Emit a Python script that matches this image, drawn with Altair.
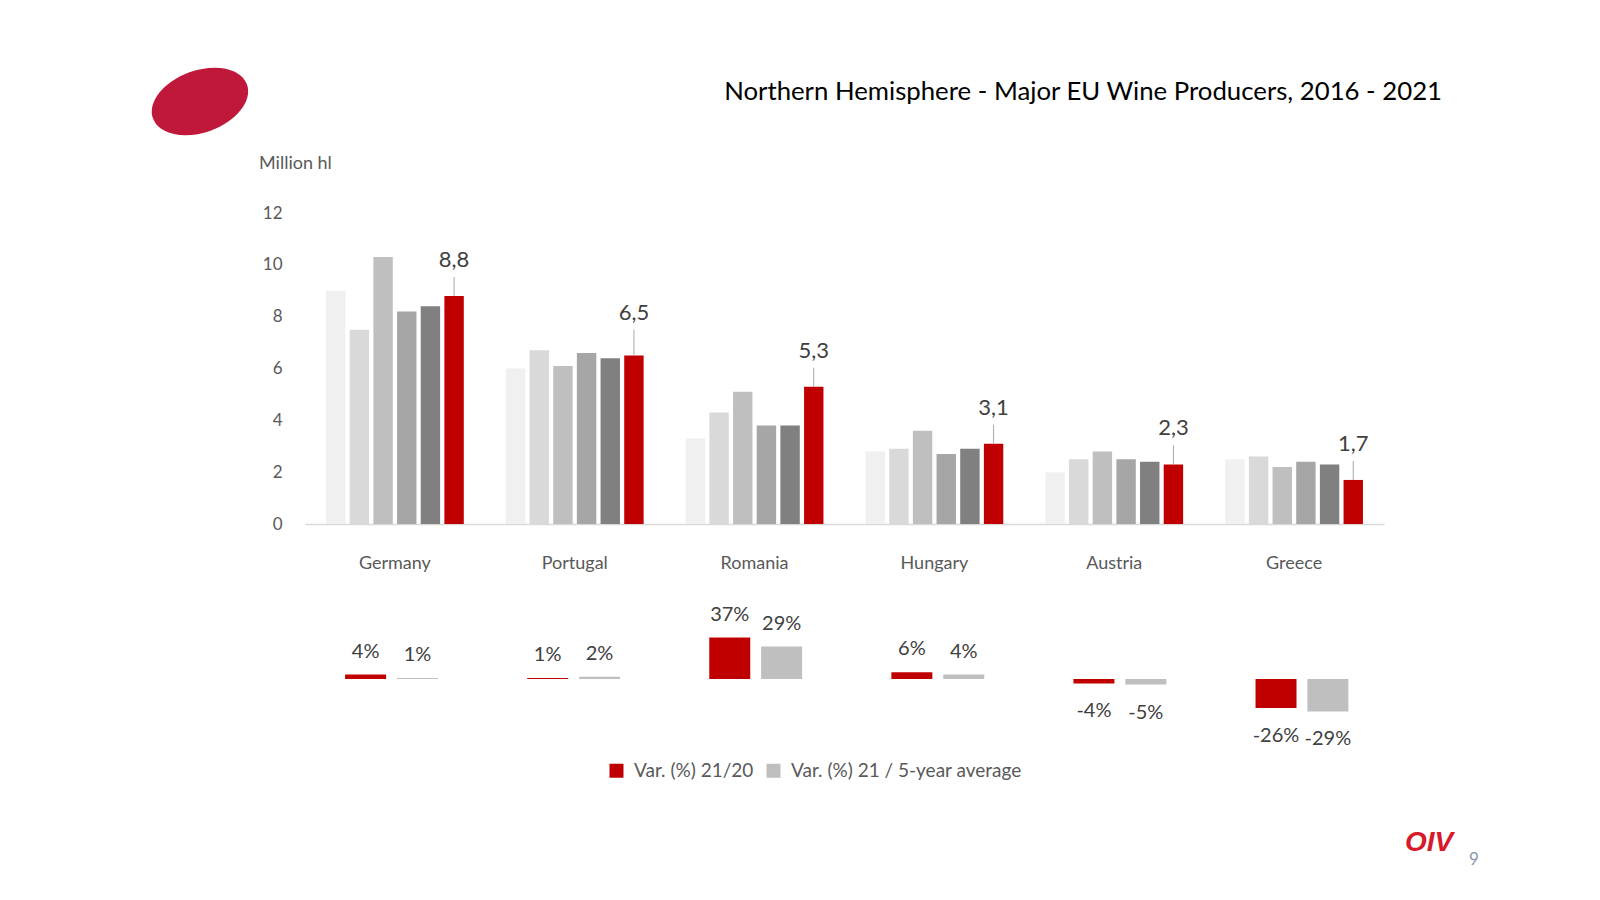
import altair as alt
import pandas as pd

# ---------------- data ----------------
countries = ["Germany", "Portugal", "Romania", "Hungary", "Austria", "Greece"]
years = ["2016", "2017", "2018", "2019", "2020", "2021"]
germany = [9.0, 7.5, 10.3, 8.2, 8.4, 8.8]
portugal = [6.0, 6.7, 6.1, 6.6, 6.4, 6.5]
romania = [3.3, 4.3, 5.1, 3.8, 3.8, 5.3]
hungary = [2.8, 2.9, 3.6, 2.7, 2.9, 3.1]
austria = [2.0, 2.5, 2.8, 2.5, 2.4, 2.3]
greece = [2.5, 2.6, 2.2, 2.4, 2.3, 1.7]
year_colors = ["#F0F0F0", "#D9D9D9", "#BFBFBF", "#A6A6A6", "#808080", "#C00000"]

var_series = ["Var. (%) 21/20", "Var. (%) 21 / 5-year average"]
var_21_20 = [4, 1, 37, 6, -4, -26]
var_21_5y = [1, 2, 29, 4, -5, -29]
var_colors = ["#C00000", "#BFBFBF"]

title_text = "Northern Hemisphere - Major EU Wine Producers, 2016 - 2021"
unit_text = "Million hl"
y_ticks = [0, 2, 4, 6, 8, 10, 12]

# ---------------- tables ----------------
series = [germany, portugal, romania, hungary, austria, greece]
prod_rows = []
for c, vals in zip(countries, series):
    for y, v in zip(years, vals):
        prod_rows.append({"country": c, "year": y, "value": v})
prod = pd.DataFrame(prod_rows)

var_rows = []
for i, c in enumerate(countries):
    var_rows.append({"c2": c, "series": var_series[0], "pct": var_21_20[i]})
    var_rows.append({"c2": c, "series": var_series[1], "pct": var_21_5y[i]})
var_df = pd.DataFrame(var_rows)

FONT = "Lato"

# ---------------- top chart ----------------
x_top = alt.X(
    "country:N",
    sort=countries,
    scale=alt.Scale(range=[297, 1376], paddingInner=0.234, paddingOuter=0.117),
    axis=alt.Axis(
        title=None, orient="bottom", offset=-368, domainColor="#D9D9D9",
        domainWidth=1.5, ticks=False, tickSize=0, labelPadding=30,
        labelFontSize=18, labelColor="#595959", labelFont=FONT, labelAngle=0,
    ),
)
xo_top = alt.XOffset("year:N", sort=years,
                     scale=alt.Scale(paddingInner=0.18, paddingOuter=0))
y_scale_top = alt.Scale(domain=[0, 12], range=[516, 205], nice=False)
y_axis_top = alt.Axis(
    title=None, offset=-274, domain=False, ticks=False, tickSize=0,
    labelPadding=0, values=y_ticks, grid=False, labelFontSize=17,
    labelColor="#595959", labelFont=FONT, format="d",
)
y_top = alt.Y("value:Q", scale=y_scale_top, axis=y_axis_top)
y_lead = alt.Y("top:Q", scale=y_scale_top, axis=y_axis_top)

bars_top = alt.Chart(prod).mark_bar().encode(
    x=x_top, xOffset=xo_top, y=y_top,
    color=alt.Color("year:N", sort=years,
                    scale=alt.Scale(domain=years, range=year_colors), legend=None),
)
last = prod[prod["year"] == years[-1]]
lead_calc = "datum.value + (datum.country == 'Portugal' ? 1.0 : 0.73)"
rule_top = alt.Chart(last).mark_rule(color="#A6A6A6", strokeWidth=1).transform_calculate(
    top=lead_calc
).encode(x=x_top, xOffset=xo_top, y=y_top, y2="top:Q")
text_top = alt.Chart(last).mark_text(
    baseline="alphabetic", dy=-10, fontSize=22, color="#404040", font=FONT
).transform_calculate(
    top=lead_calc,
    lbl="replace(format(datum.value, '.1f'), '.', ',')"
).encode(x=x_top, xOffset=xo_top, y=y_lead, text="lbl:N")

top = alt.layer(bars_top, rule_top, text_top)

# ---------------- bottom chart ----------------
x_bot = alt.X("c2:N", sort=countries,
              scale=alt.Scale(range=[292.5, 1385], paddingInner=0.49, paddingOuter=0.245),
              axis=None)
xo_bot = alt.XOffset("series:N", sort=var_series,
                     scale=alt.Scale(paddingInner=0.21, paddingOuter=0))
y_bot = alt.Y("pct:Q", scale=alt.Scale(domain=[-30, 40], range=[704.6, 626.2], nice=False),
              axis=None)

bars_bot = alt.Chart(var_df).mark_bar().encode(
    x=x_bot, xOffset=xo_bot, y=y_bot,
    color=alt.Color(
        "series:N", sort=var_series,
        scale=alt.Scale(domain=var_series, range=var_colors),
        legend=alt.Legend(
            title=None, orient="none", legendX=599, legendY=753,
            direction="horizontal", symbolType="square", symbolSize=196,
            symbolStrokeWidth=0, labelFontSize=19, labelFont=FONT,
            labelColor="#595959", padding=0, columnPadding=10, labelOffset=8,
            labelLimit=500,
        ),
    ),
)
lbl_pos = alt.Chart(var_df).transform_filter("datum.pct >= 0").transform_calculate(
    lbl="datum.pct + '%'"
).mark_text(baseline="middle", dy=-23, fontSize=20, color="#404040", font=FONT).encode(
    x=x_bot, xOffset=xo_bot, y=y_bot, text="lbl:N")
lbl_neg = alt.Chart(var_df).transform_filter("datum.pct < 0").transform_calculate(
    lbl="datum.pct + '%'"
).mark_text(baseline="middle", dy=28, fontSize=20, color="#404040", font=FONT).encode(
    x=x_bot, xOffset=xo_bot, y=y_bot, text="lbl:N")

bottom = alt.layer(bars_bot, lbl_pos, lbl_neg)

# ---------------- decorations ----------------
def label(txt, x, y, **kw):
    return alt.Chart(pd.DataFrame({"t": [txt]})).mark_text(**kw).encode(
        text="t:N", x=alt.value(x), y=alt.value(y))

title = label(title_text, 1434, 84, align="right", baseline="middle",
              fontSize=25.75, color="#000000", font=FONT)
unit = label(unit_text, 251, 156, align="left", baseline="middle",
             fontSize=18, color="#595959", font=FONT)
oiv = label("OIV", 1421, 835, align="center", baseline="middle", fontSize=28,
            fontWeight="bold", fontStyle="italic", color="#D7192A", font="Liberation Sans")
page = label("9", 1466, 852, align="center", baseline="middle", fontSize=17,
             color="#8497B0", font=FONT)
ellipse = alt.Chart(pd.DataFrame({"t": [1]})).mark_point(
    filled=True, opacity=1, strokeWidth=0, color="#C0183A",
    shape="M -1 0 A 1 0.62 0 1 1 1 0 A 1 0.62 0 1 1 -1 0 Z",
).encode(x=alt.value(192), y=alt.value(93.5), size=alt.value(10000), angle=alt.value(340))

chart = alt.layer(top, bottom, title, unit, oiv, page, ellipse).resolve_scale(
    x="independent", y="independent", color="independent", xOffset="independent"
).properties(
    width=1584, height=884, autosize=alt.AutoSizeParams(type="none"), padding=0
).configure(font=FONT).configure_view(stroke=None)

chart.save("out.html", embed_options={"renderer": "svg", "actions": False})
